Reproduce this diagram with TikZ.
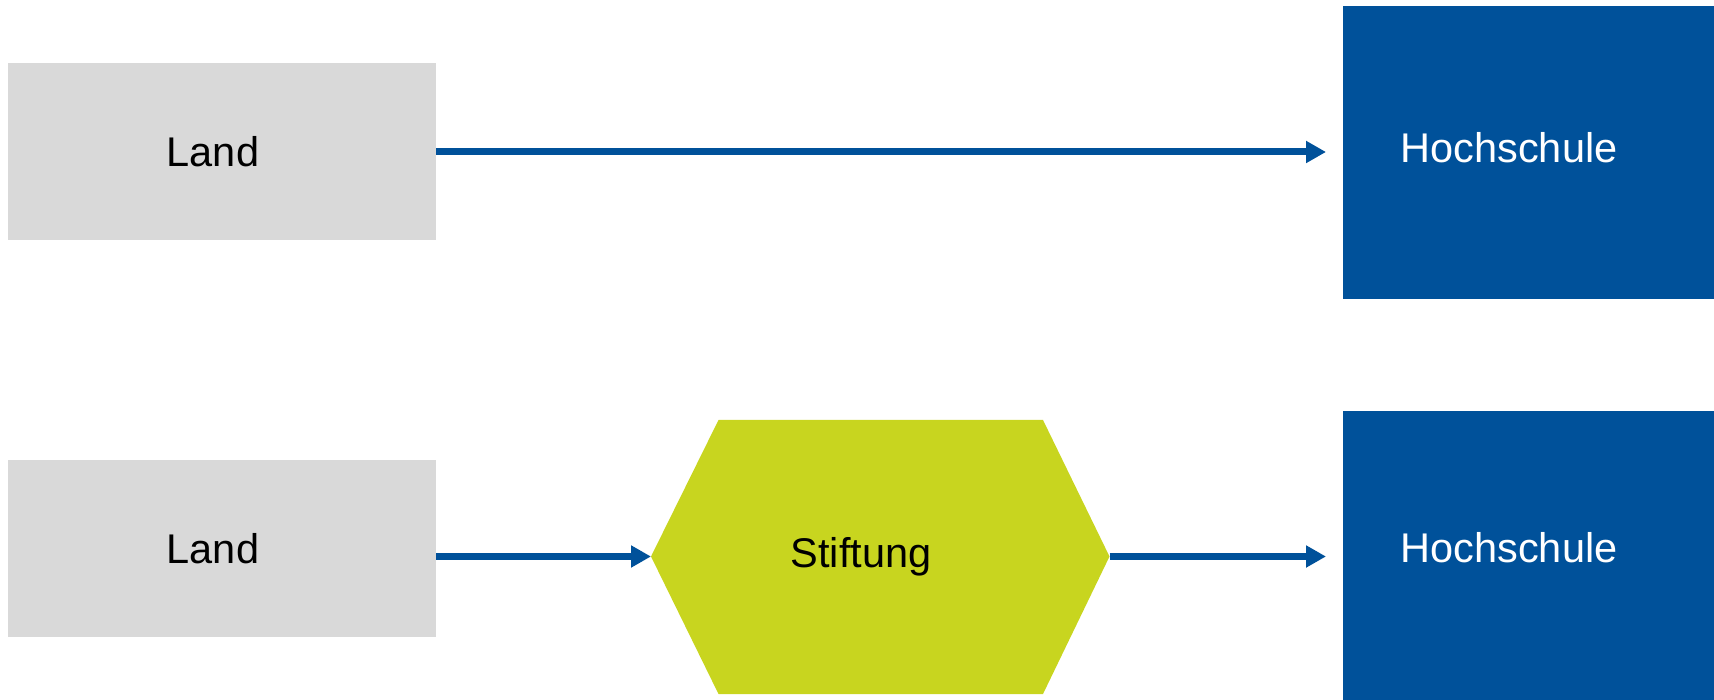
\documentclass[tikz,border=0pt]{standalone}
\usepackage{fontspec}
\setmainfont{Liberation Sans}
\usetikzlibrary{arrows.meta}
\definecolor{uniblue}{RGB}{0,81,154}
\definecolor{landgray}{RGB}{217,217,217}
\definecolor{stiftgreen}{RGB}{200,213,31}
\tikzset{
  box/.style={inner sep=0pt, outer sep=0pt, draw=none},
  graybox/.style={box, fill=landgray, minimum width=428.5pt, minimum height=177pt},
  bluebox/.style={box, fill=uniblue, minimum width=371pt},
  lbl/.style={inner sep=0pt, outer sep=0pt, font=\fontsize{41.5}{50}\selectfont},
  flow/.style={draw=uniblue, line width=7pt, -{Triangle[length=20pt,width=21pt]}}
}
\begin{document}
\begin{tikzpicture}[x=1pt,y=-1pt]
\useasboundingbox (0,0) rectangle (1714,700);
% top row
\node[graybox] (land1) at (222,152) {};
\node[bluebox, minimum height=293pt] (hs1) at (1528.5,153) {};
\node[lbl] (land1t) at (213,152) {Land};
\node[lbl, text=white] (hs1t) at (1509,147.6) {Hochschule};
\draw[flow, shorten >=17pt] (land1.east) -- (land1.east -| hs1.west);
% bottom row
\node[graybox] (land2) at (222,548.5) {};
\node[bluebox, minimum height=289pt] (hs2) at (1528.5,555.5) {};
\coordinate (hexW) at (651,556.5);
\coordinate (hexNW) at (718.5,420);
\coordinate (hexNE) at (1043,420);
\coordinate (hexE) at (1109.5,556.5);
\coordinate (hexSE) at (1043,694);
\coordinate (hexSW) at (718.5,694);
\fill[stiftgreen] (hexW) -- (hexNW) -- (hexNE) -- (hexE) -- (hexSE) -- (hexSW) -- cycle;
\node[lbl] (land2t) at (213,548.7) {Land};
\node[lbl] (stiftt) at (861,556.5) {Stiftung};
\node[lbl, text=white] (hs2t) at (1509,548) {Hochschule};
\coordinate (a2s) at (land2.east |- hexW);
\draw[flow] (a2s) -- (hexW);
\draw[flow, shorten >=17pt] (hexE) -- (hexE -| hs2.west);
\end{tikzpicture}
\end{document}
